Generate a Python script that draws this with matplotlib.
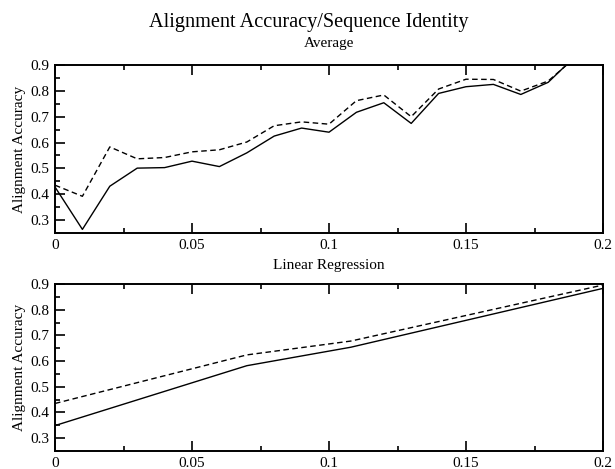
import matplotlib
matplotlib.use("Agg")
import matplotlib.pyplot as plt
from matplotlib.ticker import MultipleLocator, FuncFormatter

plt.rcParams['font.family'] = ['Liberation Serif', 'DejaVu Serif']

x_avg = [0.00, 0.01, 0.02, 0.03, 0.04, 0.05, 0.06, 0.07, 0.08, 0.09,
         0.10, 0.11, 0.12, 0.13, 0.14, 0.15, 0.16, 0.17, 0.18, 0.19]
avg_solid = [0.428, 0.264, 0.431, 0.501, 0.503, 0.528, 0.507, 0.560, 0.625, 0.656,
             0.640, 0.717, 0.754, 0.674, 0.790, 0.816, 0.825, 0.786, 0.833, 0.935]
avg_dashed = [0.435, 0.392, 0.583, 0.537, 0.542, 0.564, 0.572, 0.602, 0.665, 0.680,
              0.671, 0.762, 0.784, 0.700, 0.807, 0.845, 0.844, 0.799, 0.838, 0.930]

x_lr = [0.0, 0.07, 0.108, 0.2]
lr_solid = [0.349, 0.582, 0.654, 0.883]
lr_dashed = [0.435, 0.624, 0.678, 0.896]

title = "Alignment Accuracy/Sequence Identity"
sub1 = "Average"
sub2 = "Linear Regression"
ylabel = "Alignment Accuracy"

W, H = 615, 469
fig = plt.figure(figsize=(W / 100, H / 100), dpi=100)

def px_axes(left, top, right, bottom):
    return fig.add_axes([left / W, 1 - bottom / H, (right - left) / W, (bottom - top) / H])

def fmt(v, pos):
    s = ("%.2f" % v).rstrip('0').rstrip('.')
    return s

def style(ax):
    ax.set_xlim(0, 0.2)
    ax.set_ylim(0.25, 0.9)
    ax.xaxis.set_major_locator(MultipleLocator(0.05))
    ax.xaxis.set_minor_locator(MultipleLocator(0.025))
    ax.yaxis.set_major_locator(MultipleLocator(0.1))
    ax.yaxis.set_minor_locator(MultipleLocator(0.05))
    ax.xaxis.set_major_formatter(FuncFormatter(fmt))
    ax.yaxis.set_major_formatter(FuncFormatter(lambda v, p: "%.1f" % v))
    ax.tick_params(which='both', direction='in', top=True, right=False,
                   labelsize=11, width=1.2, pad=4)
    ax.tick_params(which='major', length=7)
    ax.tick_params(which='minor', length=3.5)
    for s in ax.spines.values():
        s.set_linewidth(1.4)
    ax.set_ylabel(ylabel, fontsize=11, labelpad=3)

ax1 = px_axes(55, 65, 603, 233)
style(ax1)
ax1.plot(x_avg, avg_solid, color='black', lw=1.0, linestyle='-')
ax1.plot(x_avg, avg_dashed, color='black', lw=1.0, linestyle=(0, (4, 2.5)))

ax2 = px_axes(55, 284, 603, 451)
style(ax2)
ax2.plot(x_lr, lr_solid, color='black', lw=1.0, linestyle='-')
ax2.plot(x_lr, lr_dashed, color='black', lw=1.0, linestyle=(0, (4, 2.5)))

fig.text(309 / W, 1 - 27 / H, title, ha='center', va='baseline', fontsize=14.6)
fig.text(329 / W, 1 - 44 / H, sub1, ha='center', va='center', fontsize=11)
fig.text(329 / W, 1 - 265 / H, sub2, ha='center', va='center', fontsize=11)

fig.savefig("out.png", dpi=100)
